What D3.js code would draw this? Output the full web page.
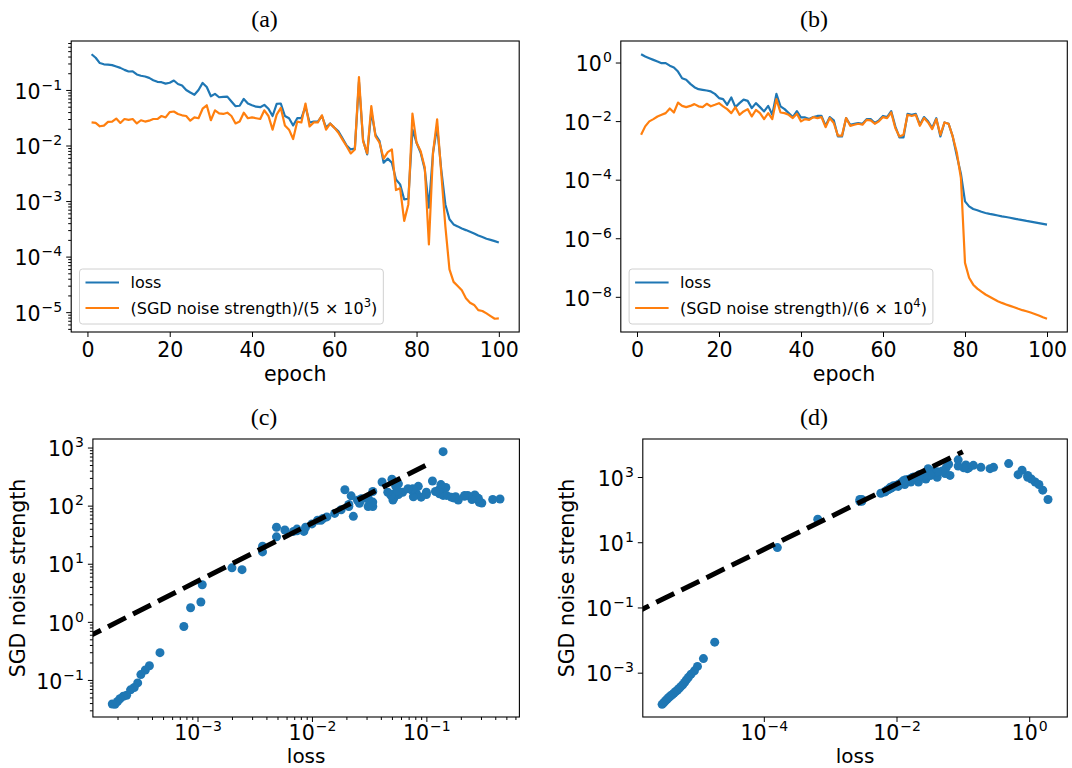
<!DOCTYPE html>
<meta charset="utf-8">
<style>
  body { margin: 0; background: #fff; }
  svg text { font-family: "DejaVu Sans", sans-serif; fill: #000; }
  .title { font-family: "Liberation Serif", "Times New Roman", serif; font-size: 24px; }
</style>
<svg width="1072" height="768"></svg>
<script src="https://d3js.org/d3.v7.min.js"></script>
<script>
// epochs 1..100
const epochs = d3.range(1, 101);

// panel (a): loss and (SGD noise strength)/(5e3)
const lossA = [0.44, 0.38, 0.305, 0.29, 0.285, 0.28, 0.265, 0.25, 0.23, 0.215,
  0.216, 0.19, 0.18, 0.175, 0.165, 0.15, 0.14, 0.138, 0.13, 0.135,
  0.148, 0.128, 0.12, 0.1, 0.09, 0.082, 0.1, 0.134, 0.113, 0.077,
  0.085, 0.074, 0.075, 0.076, 0.062, 0.051, 0.052, 0.069, 0.057, 0.053,
  0.05, 0.049, 0.054, 0.046, 0.034, 0.056, 0.057, 0.034, 0.031, 0.023,
  0.031, 0.031, 0.05, 0.026, 0.027, 0.027, 0.034, 0.021, 0.025, 0.021,
  0.018, 0.0135, 0.01, 0.0085, 0.0088, 0.14, 0.0125, 0.0069, 0.041, 0.0158,
  0.012, 0.0049, 0.0058, 0.0049, 0.00245, 0.002, 0.00107, 0.0011, 0.0194, 0.0112,
  0.0074, 0.0037, 0.00076, 0.0074, 0.022, 0.0037, 0.00087, 0.00047, 0.00038, 0.00035,
  0.00032, 0.0003, 0.00028, 0.00026, 0.00024, 0.000225, 0.00021, 0.0002, 0.00019, 0.00018];
const noiseOverA = [0.026, 0.0255, 0.0222, 0.0228, 0.0266, 0.027, 0.0305, 0.0255, 0.03, 0.029,
  0.03, 0.025, 0.0285, 0.027, 0.028, 0.03, 0.03, 0.034, 0.032, 0.04,
  0.041, 0.037, 0.035, 0.034, 0.028, 0.032, 0.031, 0.046, 0.053, 0.0285,
  0.043, 0.038, 0.037, 0.039, 0.034, 0.025, 0.027, 0.039, 0.031, 0.032,
  0.031, 0.03, 0.043, 0.034, 0.0193, 0.036, 0.0475, 0.023, 0.0193, 0.0131,
  0.027, 0.026, 0.057, 0.022, 0.026, 0.026, 0.035, 0.0193, 0.0248, 0.021,
  0.017, 0.0128, 0.0097, 0.0072, 0.0085, 0.17, 0.012, 0.0072, 0.051, 0.0147,
  0.0112, 0.0058, 0.0076, 0.0085, 0.00158, 0.0017, 0.00044, 0.00087, 0.0376, 0.0112,
  0.0079, 0.004, 0.000166, 0.0074, 0.0295, 0.0032, 0.00035, 5.89e-5, 3.51e-5, 2.96e-5,
  2.47e-5, 1.78e-5, 1.48e-5, 1.35e-5, 1.09e-5, 1.05e-5, 9.5e-6, 8.5e-6, 7.6e-6, 7.7e-6];
const scaleA = 5e3;

// panel (b): loss and (SGD noise strength)/(6e4)
const lossB = [1.92, 1.6, 1.4, 1.23, 1.08, 0.95, 0.95, 0.78, 0.68, 0.49,
  0.29, 0.257, 0.187, 0.144, 0.123, 0.117, 0.111, 0.103, 0.085, 0.061,
  0.056, 0.036, 0.064, 0.03, 0.041, 0.054, 0.049, 0.0277, 0.041, 0.03,
  0.0214, 0.033, 0.0164, 0.085, 0.032, 0.0257, 0.0187, 0.0137, 0.022, 0.0133,
  0.0133, 0.0117, 0.0137, 0.015, 0.015, 0.0069, 0.0137, 0.0106, 0.003, 0.003,
  0.0126, 0.0075, 0.0081, 0.0086, 0.0081, 0.0117, 0.0117, 0.0086, 0.0106, 0.015,
  0.0137, 0.022, 0.0066, 0.0028, 0.0028, 0.0178, 0.0164, 0.0178, 0.0075, 0.0137,
  0.0098, 0.0058, 0.0126, 0.003, 0.009, 0.0081, 0.003, 0.00065, 0.00016, 1.82e-5,
  1.23e-5, 1.0e-5, 9.0e-6, 8.0e-6, 7.3e-6, 6.8e-6, 6.4e-6, 6.0e-6, 5.6e-6, 5.3e-6,
  5.0e-6, 4.7e-6, 4.4e-6, 4.15e-6, 3.9e-6, 3.7e-6, 3.5e-6, 3.3e-6, 3.1e-6, 2.93e-6];
const noiseOverB = [0.0034, 0.0066, 0.0098, 0.0117, 0.0144, 0.0164, 0.0187, 0.027, 0.0197, 0.043,
  0.033, 0.03, 0.033, 0.038, 0.032, 0.03, 0.039, 0.032, 0.036, 0.041,
  0.032, 0.0257, 0.0187, 0.03, 0.0164, 0.0214, 0.0257, 0.0144, 0.024, 0.0187,
  0.0117, 0.0187, 0.0117, 0.056, 0.0197, 0.0187, 0.0164, 0.0127, 0.0178, 0.0098,
  0.0117, 0.011, 0.0137, 0.0127, 0.0137, 0.0062, 0.0127, 0.0086, 0.0032, 0.0032,
  0.0127, 0.0069, 0.0075, 0.0081, 0.0075, 0.011, 0.0106, 0.0081, 0.0098, 0.0137,
  0.0127, 0.0197, 0.0058, 0.003, 0.0034, 0.0164, 0.015, 0.0164, 0.0069, 0.0127,
  0.009, 0.0053, 0.0117, 0.0034, 0.009, 0.0081, 0.003, 0.00085, 0.000114, 1.44e-7,
  4.5e-8, 2.6e-8, 1.9e-8, 1.5e-8, 1.2e-8, 1.0e-8, 8.4e-9, 7.1e-9, 6.2e-9, 5.5e-9,
  4.9e-9, 4.4e-9, 3.9e-9, 3.5e-9, 3.2e-9, 2.9e-9, 2.6e-9, 2.3e-9, 2.0e-9, 1.78e-9];
const scaleB = 6e4;

// dashed reference lines in (c) and (d)
const fitLossC = [1e-4, 1e-1], fitNoiseC = [0.5, 500];
const fitLossD = [1e-6, 1e-1], fitNoiseD = [0.06, 6000];

const epochTicks = [0, 20, 40, 60, 80, 100];

const blue = "#1f77b4", orange = "#ff7f0e";
const svg = d3.select("svg");
let clipId = 0;

// matplotlib style 5% margins
function linExtent(v) { const lo = d3.min(v), hi = d3.max(v), m = (hi - lo) * 0.05; return [lo - m, hi + m]; }
function logExtent(v) {
  const lo = Math.log10(d3.min(v)), hi = Math.log10(d3.max(v)), m = (hi - lo) * 0.05;
  return [10 ** (lo - m), 10 ** (hi + m)];
}
function minorTicks(dom) {
  const out = [];
  const a = Math.floor(Math.log10(d3.min(dom))), b = Math.ceil(Math.log10(d3.max(dom)));
  for (let k = a; k <= b; k++) for (let m = 2; m <= 9; m++) {
    const v = m * 10 ** k;
    if (v >= d3.min(dom) && v <= d3.max(dom)) out.push(v);
  }
  return out;
}

function supLabel(sel) {
  sel.each(function(d) {
    const t = d3.select(this).text(null);
    const e = Math.round(Math.log10(d));
    t.append("tspan").text("10");
    t.append("tspan").attr("font-size", 14).attr("dy", -9).attr("dx", 1)
      .text(String(e).replace("-", "\u2212"));
  });
}

function panel(o) {
  const g = svg.append("g").attr("transform", `translate(${o.left},${o.top})`);
  const w = o.w, h = o.h;
  o.x.range([0, w]); o.y.range([h, 0]);
  const id = "clip" + (clipId++);
  g.append("clipPath").attr("id", id).append("rect").attr("width", w).attr("height", h);
  const plot = g.append("g").attr("clip-path", `url(#${id})`);

  // axes
  const ax = d3.axisBottom(o.x).tickValues(o.xTicks).tickSize(5).tickPadding(o.xPad);
  if (o.xLog) ax.tickFormat(() => "");
  const gx = g.append("g").attr("transform", `translate(0,${h})`).call(ax);
  if (o.xLog) gx.selectAll(".tick text").call(supLabel);
  if (o.xMinor) g.append("g").attr("transform", `translate(0,${h})`)
    .call(d3.axisBottom(o.x).tickValues(minorTicks(o.x.domain())).tickSize(3).tickFormat(() => ""));
  const ay = d3.axisLeft(o.y).tickValues(o.yTicks).tickSize(5).tickPadding(4).tickFormat(() => "");
  const gy = g.append("g").call(ay);
  gy.selectAll(".tick text").attr("dy", "0.4em").call(supLabel);
  if (o.yMinor) g.append("g")
    .call(d3.axisLeft(o.y).tickValues(minorTicks(o.y.domain())).tickSize(3).tickFormat(() => ""));
  g.selectAll(".domain").remove();
  g.selectAll(".tick line").attr("stroke", "#000").attr("stroke-width", 1);
  g.selectAll(".tick text").attr("font-size", 20.5).attr("font-family", "DejaVu Sans").attr("fill", "#000");

  // labels; the serif captions sit over the whole sub-figure, not the axes
  g.append("text").attr("class", "title").attr("x", o.titleX - o.left).attr("y", -o.titleGap)
    .attr("text-anchor", "middle").text(o.title);
  g.append("text").attr("x", w / 2).attr("y", h + o.xLabGap).attr("text-anchor", "middle")
    .attr("font-size", o.xLabSize).text(o.xLabel);
  if (o.yLabel) g.append("text")
    .attr("transform", `translate(${-o.yLabGap},${h / 2}) rotate(-90)`)
    .attr("text-anchor", "middle").attr("font-size", 20.5).text(o.yLabel);

  return { g, plot, w, h };
}

function linePanel(o, loss, noiseOver, scaleExp, scaleMant) {
  const yDom = logExtent(loss.concat(noiseOver));
  o.x = d3.scaleLinear().domain(linExtent(epochs));
  o.y = d3.scaleLog().domain(yDom);
  const p = panel(o);
  const line = d3.line().x((d, i) => o.x(epochs[i])).y(d => o.y(d));
  p.plot.append("path").datum(loss).attr("d", line).attr("fill", "none")
    .attr("stroke", blue).attr("stroke-width", 2.2).attr("stroke-linejoin", "round");
  p.plot.append("path").datum(noiseOver).attr("d", line).attr("fill", "none")
    .attr("stroke", orange).attr("stroke-width", 2.2).attr("stroke-linejoin", "round");
  frame(p);

  // legend
  const lg = p.g.append("g").attr("transform", `translate(8.3,${p.h - 8 - 55})`);
  const box = lg.append("rect").attr("height", 55).attr("rx", 3)
    .attr("fill", "#fff").attr("fill-opacity", 0.8).attr("stroke", "#d0d0d0");
  const rows = [{ c: blue, y: 13.5 }, { c: orange, y: 39 }];
  rows.forEach(r => lg.append("line").attr("x1", 6).attr("x2", 39.5).attr("y1", r.y).attr("y2", r.y)
    .attr("stroke", r.c).attr("stroke-width", 2.2));
  lg.append("text").attr("x", 51).attr("y", 13.5 + 5.5).attr("font-size", 16).text("loss");
  const t2 = lg.append("text").attr("x", 51).attr("y", 39 + 5.5).attr("font-size", 16);
  t2.append("tspan").text(`(SGD noise strength)/(${scaleMant} \u00d7 10`);
  t2.append("tspan").attr("font-size", 11.5).attr("dy", -7).text(scaleExp);
  t2.append("tspan").attr("dy", 7).text(")");
  box.attr("width", 51 + t2.node().getComputedTextLength() + 6);
}

function scatterPanel(o, loss, noise, fitLoss, fitNoise) {
  o.x = d3.scaleLog().domain(logExtent(loss));
  o.y = d3.scaleLog().domain(logExtent(noise.concat(fitNoise)));
  const p = panel(o);
  p.plot.selectAll("circle").data(loss).join("circle")
    .attr("cx", d => o.x(d)).attr("cy", (d, i) => o.y(noise[i])).attr("r", 4.5).attr("fill", blue);
  p.plot.append("path").datum(fitLoss)
    .attr("d", d3.line().x(d => o.x(d)).y((d, i) => o.y(fitNoise[i])))
    .attr("fill", "none").attr("stroke", "#000").attr("stroke-width", 5)
    .attr("stroke-dasharray", "20,8");
  frame(p);
}

function frame(p) {
  p.g.append("rect").attr("width", p.w).attr("height", p.h)
    .attr("fill", "none").attr("stroke", "#000").attr("stroke-width", 1.1);
}

linePanel({ left: 71.2, top: 41, w: 448, h: 291, title: "(a)", titleX: 264.5, titleGap: 14,
  xLabel: "epoch", xLabGap: 49, xLabSize: 20.5, xPad: 5,
  xTicks: epochTicks, yTicks: [1e-1, 1e-2, 1e-3, 1e-4, 1e-5], yMinor: true }, lossA, noiseOverA, "3", "5");

linePanel({ left: 620.8, top: 41, w: 446.5, h: 291, title: "(b)", titleX: 814, titleGap: 14,
  xLabel: "epoch", xLabGap: 49, xLabSize: 20.5, xPad: 5,
  xTicks: epochTicks, yTicks: [1, 1e-2, 1e-4, 1e-6, 1e-8] }, lossB, noiseOverB, "4", "6");

scatterPanel({ left: 92.9, top: 439, w: 426.5, h: 278, title: "(c)", titleX: 264, titleGap: 14,
  xLabel: "loss", xLabGap: 46.2, xLabSize: 20, xPad: 3,
  xLog: true, xMinor: true, yMinor: true, yLabel: "SGD noise strength", yLabGap: 68,
  xTicks: [1e-3, 1e-2, 1e-1], yTicks: [1e-1, 1, 10, 100, 1000] },
  lossA, noiseOverA.map(v => v * scaleA), fitLossC, fitNoiseC);

scatterPanel({ left: 642.8, top: 439, w: 424.5, h: 278, title: "(d)", titleX: 814, titleGap: 14,
  xLabel: "loss", xLabGap: 46.2, xLabSize: 20, xPad: 3,
  xLog: true, yLabel: "SGD noise strength", yLabGap: 69,
  xTicks: [1e-4, 1e-2, 1], yTicks: [1e-3, 1e-1, 10, 1000] },
  lossB, noiseOverB.map(v => v * scaleB), fitLossD, fitNoiseD);
</script>
